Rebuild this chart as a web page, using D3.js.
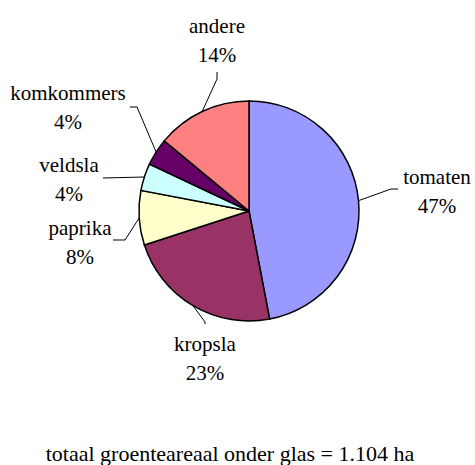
<!DOCTYPE html>
<html><head><meta charset="utf-8">
<script src="https://cdn.jsdelivr.net/npm/d3@7"></script>
<style>
@font-face{font-family:"ChartSerif";src:local("Liberation Serif"),local("LiberationSerif"),local("Liberation Serif Regular"),local("LiberationSerif-Regular");}
</style>
</head><body style="margin:0;background:#fff"><svg id="c" width="475" height="465"></svg>
<script>
const categories = ["tomaten","kropsla","paprika","veldsla","komkommers","andere"];
const values = [47,23,8,4,4,14];
const percentLabels = ["47%","23%","8%","4%","4%","14%"];
const colors = ["#9999FF","#993366","#FFFFCC","#CCFFFF","#660066","#FF8080"];
const footer = "totaal groenteareaal onder glas = 1.104 ha";

// layout: label centres (x, first baseline) and leader elbow points
const labelPos = [[437,184],[205,351],[80,235],[69,172],[68,100],[217,33]];
const leaderEnd = [[[398,189],[391,189]],[[205,324],[205,322]],[[113,240],[125,240]],[[103,178],[103,178]],[[130,107],[137,107]],[[217,72],[217,79]]];

const cx=249, cy=211, r=110;
const FAM="'Liberation Serif', ChartSerif, 'Times New Roman', Tinos, FreeSerif";
const svg=d3.select("#c").style("font-family",FAM);
const g=svg.append("g").attr("transform",`translate(${cx},${cy})`);
const pie=d3.pie().sort(null).value(d=>d)(values);
const arc=d3.arc().innerRadius(0).outerRadius(r);
const edge=d3.arc().innerRadius(r).outerRadius(r);
g.selectAll("path.s").data(pie).join("path").attr("class","s")
 .attr("d",arc).attr("fill",(d,i)=>colors[i]).attr("stroke","#000").attr("stroke-width",1.5);

const line=d3.line();
pie.forEach((d,i)=>{
  const p=edge.centroid(d);
  const pts=[[p[0]+cx,p[1]+cy],leaderEnd[i][1],leaderEnd[i][0]];
  svg.append("path").attr("d",line(pts)).attr("fill","none").attr("stroke","#000").attr("stroke-width",1);
});
const lab=svg.append("g").style("font-family",FAM);
pie.forEach((d,i)=>{
  lab.append("text").attr("x",labelPos[i][0]).attr("y",labelPos[i][1]).attr("text-anchor","middle").style("font-family",FAM).attr("font-size",21).text(categories[i]);
  lab.append("text").attr("x",labelPos[i][0]).attr("y",labelPos[i][1]+29).attr("text-anchor","middle").style("font-family",FAM).attr("font-size",21).text(percentLabels[i]);
});
lab.append("text").attr("x",230).attr("y",461).attr("text-anchor","middle").style("font-family",FAM).attr("font-size",22).text(footer);
</script></body></html>
